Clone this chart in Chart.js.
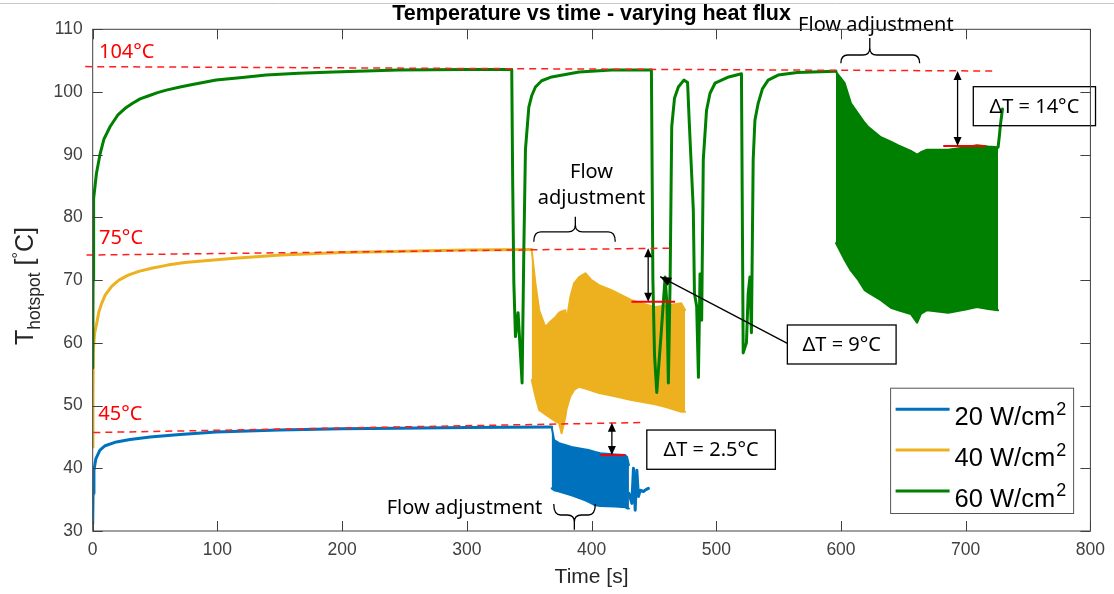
<!DOCTYPE html>
<html>
<head>
<meta charset="utf-8">
<script src="https://cdn.jsdelivr.net/npm/chart.js@4.4.0/dist/chart.umd.min.js"></script>
<style>
  html, body { margin: 0; padding: 0; background: #fff; }
  #wrap { width: 1114px; height: 594px; }
</style>
</head>
<body>
<div id="wrap"><canvas id="chart" width="1114" height="594"></canvas></div>
<script>
/* ================= DATA ================= */
const xTicks = [0, 100, 200, 300, 400, 500, 600, 700, 800];
const yTicks = [30, 40, 50, 60, 70, 80, 90, 100, 110];
const legendLabels = ["20 W/cm", "40 W/cm", "60 W/cm"];

// 20 W/cm2 - warm-up curve, then tail after the band (null = gap)
const t20 = [0, 0.3, 1, 2.5, 5.8, 10, 19, 30, 46, 70, 99, 150, 200, 245, 300, 368,
  380, 430, 432.3, 433.6, 435, 436.3, 437.6, 439, 441.6, 443.6, 445.6];
const T20 = [31.2, 36, 39.7, 41.5, 42.9, 43.6, 44.2, 44.6, 45, 45.4, 45.8, 46.1, 46.3, 46.4, 46.5, 46.6,
  null, 36, 34.4, 40, 33.3, 39.7, 35.5, 36.5, 36.3, 36.6, 36.8];
// 20 W/cm2 - oscillating part (envelope)
const t20band = [368, 370, 374, 384, 395, 398, 403, 407, 419, 427, 428.5, 430];
const T20hi = [46.6, 44.5, 44.0, 43.4, 43.0, 42.9, 42.6, 42.4, 42.2, 42.1, 41.8, 40.5];
const T20lo = [36.8, 36.5, 36.3, 35.7, 34.9, 34.6, 34.1, 34.0, 33.9, 33.8, 33.6, 33.6];

// 40 W/cm2
const t40 = [0, 0.2, 0.5, 1.5, 3.2, 5, 7.2, 10, 15.2, 21, 28.5, 37, 47.2, 60, 73.8, 90, 113.8, 151, 200, 250, 300, 352];
const T40 = [43.4, 52, 58.9, 61.5, 63.1, 65, 66.3, 67.6, 69, 70, 70.8, 71.4, 71.9, 72.4, 72.8, 73.1, 73.5, 74, 74.4, 74.6, 74.8, 74.9];
const t40band = [352, 355, 358, 363, 366, 371, 374, 376, 379, 380, 383, 386, 390, 395, 400, 406, 416, 432, 451, 459, 472, 475];
const T40hi = [74.8, 69.5, 65.2, 62.5, 63.2, 64.1, 64.8, 65.0, 65.2, 63.6, 67.3, 69.5, 70.5, 71.1, 70.0, 69.2, 68.4, 66.8, 65.7, 65.9, 66.3, 65.2];
const T40lo = [54.1, 51.5, 49.3, 48.6, 48.2, 47.5, 47.2, 45.6, 48.2, 49.5, 51.5, 52.5, 53.0, 52.7, 52.4, 52.0, 51.6, 50.9, 50.2, 49.8, 49.0, 49.0];

// 60 W/cm2
const t60 = [0, 0.3, 0.5, 1, 3, 5.8, 9, 14, 20, 26, 32, 38, 45, 52, 59, 70, 80, 99, 120, 139, 165, 193, 245, 300, 336,
  336.8, 337.7, 339, 341.1, 342.2, 344.3, 345.7, 347, 349.7, 352, 355, 360, 368, 390, 416, 448,
  449.2, 450.5, 452.3, 456, 459, 460.5, 461.6, 463, 464.3, 466.5, 469.6, 474, 477,
  478.5, 481.6, 482.5, 484.3, 485.7, 487, 488.3, 489.6, 492.2, 495, 499, 510, 520.2,
  521.6, 524.2, 525.6, 527, 528.2, 529.6, 531, 533.6, 537, 541.6, 549.6, 565, 596,
  660, 726, 727, 728, 729.5];
const T60 = [56, 70, 80, 83, 87, 90, 92.5, 94.5, 96.3, 97.4, 98.2, 98.9, 99.4, 99.9, 100.3, 100.8, 101.2, 101.9, 102.3, 102.7, 103.0, 103.2, 103.5, 103.6, 103.6,
  85, 69.5, 61, 64.8, 61, 53.6, 74.8, 90.8, 97.6, 99.4, 100.8, 101.8, 102.4, 103.2, 103.5, 103.5,
  70, 58, 52.1, 62, 70.5, 66, 53.6, 70, 94.5, 99, 100.8, 101.9, 101.5,
  94.5, 81.2, 67.9, 65.8, 54.5, 71, 63.6, 89.2, 97.1, 99.8, 101.4, 102.4, 102.9,
  58.4, 60, 67.9, 70.5, 61.6, 89.2, 95.5, 98.2, 100.5, 101.9, 102.7, 103.1, 103.3,
  null, 91.2, 93, 95, 97.3];
const t60band = [596, 603, 608, 614, 619, 622, 632, 640, 646, 656, 661, 664, 669, 686, 700, 709, 718, 726];
const T60hi = [103.2, 101.4, 98.2, 96.5, 95.1, 94.4, 92.8, 92.1, 91.5, 90.6, 90.0, 90.4, 90.8, 90.8, 91.2, 91.5, 91.3, 91.2];
const T60lo = [75.9, 73.2, 71.5, 70.0, 68.4, 68.0, 66.8, 65.6, 65.2, 64.6, 63.2, 64.6, 65.2, 64.8, 65.3, 65.7, 65.4, 65.2];

/* ================= STYLE ================= */
const BLUE = "#0072BD";
const ORANGE = "#EDB120";
const GREEN = "#008000";
const RED = "#ff1f1f";
const AXIS = "#404040";
const SANS = "'Liberation Sans', Arial, sans-serif";
const NOTE = "'Noto Sans', 'Open Sans', sans-serif";

// annotations, in data units
const refLines = [
  { from: [-6, 104.05], to: [721.5, 103.35], text: "104°C", at: [5, 106.4] },
  { from: [-5, 74.0], to: [464, 75.1], text: "75°C", at: [5, 76.7] },
  { from: [0.5, 45.7], to: [440, 47.3], text: "45°C", at: [4.5, 48.55] }
];
const dropLines = [
  { x1: 682, x2: 716, y: 91.4 },
  { x1: 432, x2: 467, y: 66.55 },
  { x1: 407, x2: 427, y: 42.1 }
];
const arrows = [
  { x: 693.5, y1: 103.35, y2: 91.4 },
  { x: 445.4, y1: 75.1, y2: 66.55 },
  { x: 416.3, y1: 47.25, y2: 42.1 }
];
const boxes = [
  { x1: 706.1, x2: 804.1, y1: 100.85, y2: 94.63, text: "ΔT = 14°C" },
  { x1: 557, x2: 644.2, y1: 62.85, y2: 56.63, text: "ΔT = 9°C" },
  { x1: 444.3, x2: 547.4, y1: 46.1, y2: 39.84, text: "ΔT = 2.5°C" }
];
const leader = { from: [557, 59.93], to: [455, 70.55] };
const braces = [
  { x1: 599.9, x2: 663.1, yEnd: 104.6, yMain: 105.9, xTip: 623.1, yTip: 108.6, lines: ["Flow adjustment"], at: [628, 110.7] },
  { x1: 353.7, x2: 419, yEnd: 76.13, yMain: 77.7, xTip: 387, yTip: 80.1, lines: ["Flow", "adjustment"], at: [400, 87.2] },
  { x1: 369.7, x2: 403, yEnd: 34.3, yMain: 32.55, xTip: 386.2, yTip: 30.2, lines: ["Flow adjustment"], at: [298.1, 33.67] }
];

/* ================= HELPERS ================= */
const pts = (xs, ys) => xs.map((x, i) => ({ x, y: ys[i] }));

const lineBase = {
  pointRadius: 0,
  tension: 0,
  fill: false,
  spanGaps: false,
  borderJoinStyle: "round",
  borderCapStyle: "round"
};

function arrowHead(ctx, x, y, dx, dy, len, half) {
  const n = Math.hypot(dx, dy);
  const ux = dx / n, uy = dy / n;
  ctx.beginPath();
  ctx.moveTo(x, y);
  ctx.lineTo(x - ux * len - uy * half, y - uy * len + ux * half);
  ctx.lineTo(x - ux * len + uy * half, y - uy * len - ux * half);
  ctx.closePath();
  ctx.fill();
}

function drawBrace(ctx, X1, X2, YE, YM, XT, YT) {
  const r = 7;
  const d = Math.sign(YT - YM);
  ctx.beginPath();
  ctx.moveTo(X1, YE);
  ctx.quadraticCurveTo(X1, YM, X1 + r, YM);
  ctx.lineTo(XT - r, YM);
  ctx.quadraticCurveTo(XT, YM, XT, YM + d * r);
  ctx.lineTo(XT, YT);
  ctx.moveTo(XT, YM + d * r);
  ctx.quadraticCurveTo(XT, YM, XT + r, YM);
  ctx.lineTo(X2 - r, YM);
  ctx.quadraticCurveTo(X2, YM, X2, YE);
  ctx.stroke();
}

/* ================= DECORATION PLUGIN ================= */
const decor = {
  id: "decor",
  afterDatasetsDraw(chart) {
    const ctx = chart.ctx;
    const { left, right, top, bottom } = chart.chartArea;
    const xs = chart.scales.x, ys = chart.scales.y;
    const px = (v) => xs.getPixelForValue(v);
    const py = (v) => ys.getPixelForValue(v);

    ctx.save();

    // screenshot edge line
    ctx.strokeStyle = "#c8c8c8";
    ctx.lineWidth = 1;
    ctx.beginPath();
    ctx.moveTo(0, 3.5); ctx.lineTo(chart.width, 3.5);
    ctx.stroke();

    /* ---------- reference lines ---------- */
    ctx.strokeStyle = RED;
    ctx.lineWidth = 1.5;
    ctx.setLineDash([7, 5]);
    refLines.forEach((r) => {
      ctx.beginPath();
      ctx.moveTo(px(r.from[0]), py(r.from[1]));
      ctx.lineTo(px(r.to[0]), py(r.to[1]));
      ctx.stroke();
    });
    ctx.setLineDash([]);
    ctx.fillStyle = "#ff0000";
    ctx.font = "20px " + NOTE;
    ctx.textAlign = "left";
    ctx.textBaseline = "middle";
    refLines.forEach((r) => ctx.fillText(r.text, px(r.at[0]), py(r.at[1])));

    ctx.strokeStyle = "#ff0000";
    ctx.lineWidth = 2;
    dropLines.forEach((l) => {
      ctx.beginPath();
      ctx.moveTo(px(l.x1), py(l.y)); ctx.lineTo(px(l.x2), py(l.y));
      ctx.stroke();
    });

    /* ---------- delta arrows ---------- */
    ctx.strokeStyle = "#000";
    ctx.fillStyle = "#000";
    ctx.lineWidth = 1.3;
    arrows.forEach((a) => {
      const X = px(a.x), Y1 = py(a.y1), Y2 = py(a.y2);
      ctx.beginPath();
      ctx.moveTo(X, Y1 + 6); ctx.lineTo(X, Y2 - 6);
      ctx.stroke();
      arrowHead(ctx, X, Y1, 0, -1, 9, 4);
      arrowHead(ctx, X, Y2, 0, 1, 9, 4);
    });

    const LX1 = px(leader.from[0]), LY1 = py(leader.from[1]);
    const LX2 = px(leader.to[0]), LY2 = py(leader.to[1]);
    ctx.beginPath();
    ctx.moveTo(LX1, LY1); ctx.lineTo(LX2, LY2);
    ctx.stroke();
    arrowHead(ctx, LX2, LY2, LX2 - LX1, LY2 - LY1, 11, 4.5);

    /* ---------- text boxes ---------- */
    ctx.font = "20px " + NOTE;
    ctx.textAlign = "center";
    ctx.textBaseline = "middle";
    boxes.forEach((b) => {
      const X1 = px(b.x1), X2 = px(b.x2), Y1 = py(b.y1), Y2 = py(b.y2);
      ctx.lineWidth = 1.3;
      ctx.strokeRect(X1, Y1, X2 - X1, Y2 - Y1);
      ctx.fillText(b.text, (X1 + X2) / 2, (Y1 + Y2) / 2 + 1);
    });

    /* ---------- braces ---------- */
    ctx.lineWidth = 1.3;
    braces.forEach((b) => {
      drawBrace(ctx, px(b.x1), px(b.x2), py(b.yEnd), py(b.yMain), px(b.xTip), py(b.yTip));
      b.lines.forEach((s, i) => ctx.fillText(s, px(b.at[0]), py(b.at[1]) + i * 26));
    });

    /* ---------- axes box + inward ticks ---------- */
    ctx.strokeStyle = AXIS;
    ctx.lineWidth = 1;
    ctx.strokeRect(left, top, right - left, bottom - top);
    const tl = 10;
    ctx.beginPath();
    xTicks.forEach((v) => {
      const X = Math.round(px(v)) + 0.5;
      ctx.moveTo(X, bottom); ctx.lineTo(X, bottom - tl);
      ctx.moveTo(X, top); ctx.lineTo(X, top + tl);
    });
    yTicks.forEach((v) => {
      const Y = Math.round(py(v)) + 0.5;
      ctx.moveTo(left, Y); ctx.lineTo(left + tl, Y);
      ctx.moveTo(right, Y); ctx.lineTo(right - tl, Y);
    });
    ctx.stroke();

    /* ---------- title ---------- */
    ctx.fillStyle = "#000";
    ctx.font = "bold 21.5px " + SANS;
    ctx.textAlign = "center";
    ctx.textBaseline = "middle";
    ctx.fillText("Temperature vs time - varying heat flux", (left + right) / 2, 14);

    /* ---------- y axis label with sub/superscript ---------- */
    ctx.save();
    ctx.translate(33, 345);
    ctx.rotate(-Math.PI / 2);
    ctx.fillStyle = "#262626";
    ctx.textAlign = "left";
    ctx.textBaseline = "alphabetic";
    let u = 0;
    const part = (s, size, dy) => {
      ctx.font = size + "px " + SANS;
      ctx.fillText(s, u, dy);
      u += ctx.measureText(s).width;
    };
    part("T", 25, 0);
    part("hotspot", 17.5, 6.5);
    part(" [", 25, 0);
    part("°", 16, -9);
    part("C]", 25, 0);
    ctx.restore();

    /* ---------- legend ---------- */
    const lgW = 183, lgH = 125.3;
    const lgX = right - 17.3 - lgW, lgY = bottom - 18 - lgH;
    ctx.fillStyle = "#fff";
    ctx.fillRect(lgX, lgY, lgW, lgH);
    ctx.strokeStyle = "#555";
    ctx.lineWidth = 1;
    ctx.strokeRect(lgX + 0.5, lgY + 0.5, lgW, lgH);
    [BLUE, ORANGE, GREEN].forEach((c, i) => {
      const Y = lgY + 21.6 + i * 40.8;
      ctx.strokeStyle = c;
      ctx.lineWidth = 3;
      ctx.beginPath();
      ctx.moveTo(lgX + 5.5, Y); ctx.lineTo(lgX + 59.5, Y);
      ctx.stroke();
      ctx.fillStyle = "#000";
      ctx.textAlign = "left";
      ctx.textBaseline = "alphabetic";
      ctx.font = "25.5px " + SANS;
      ctx.fillText(legendLabels[i], lgX + 64.5, Y + 16);
      const w = ctx.measureText(legendLabels[i]).width;
      ctx.font = "18px " + SANS;
      ctx.fillText("2", lgX + 64.5 + w + 1, Y + 5.5);
    });

    ctx.restore();
  }
};

/* ================= CHART ================= */
new Chart(document.getElementById("chart"), {
  type: "line",
  data: {
    datasets: [
      { ...lineBase, label: "60 W/cm²", data: pts(t60, T60), borderColor: GREEN, borderWidth: 3, order: 0 },
      { ...lineBase, data: pts(t60band, T60hi), borderColor: GREEN, borderWidth: 2, order: 0 },
      { ...lineBase, data: pts(t60band, T60lo), borderColor: GREEN, borderWidth: 2, order: 0, fill: 1, backgroundColor: GREEN },
      { ...lineBase, label: "40 W/cm²", data: pts(t40, T40), borderColor: ORANGE, borderWidth: 3, order: 1 },
      { ...lineBase, data: pts(t40band, T40hi), borderColor: ORANGE, borderWidth: 2, order: 1 },
      { ...lineBase, data: pts(t40band, T40lo), borderColor: ORANGE, borderWidth: 2, order: 1, fill: 4, backgroundColor: ORANGE },
      { ...lineBase, label: "20 W/cm²", data: pts(t20, T20), borderColor: BLUE, borderWidth: 3, order: 2 },
      { ...lineBase, data: pts(t20band, T20hi), borderColor: BLUE, borderWidth: 2, order: 2 },
      { ...lineBase, data: pts(t20band, T20lo), borderColor: BLUE, borderWidth: 2, order: 2, fill: 7, backgroundColor: BLUE }
    ]
  },
  options: {
    responsive: false,
    animation: false,
    devicePixelRatio: 1,
    layout: { padding: { top: 29.3, right: 21, bottom: 0, left: 0 } },
    plugins: {
      legend: { display: false },
      tooltip: { enabled: false },
      title: { display: false }
    },
    scales: {
      x: {
        type: "linear",
        min: 0,
        max: 800,
        afterBuildTicks: (s) => { s.ticks = xTicks.map((v) => ({ value: v })); },
        afterFit: (s) => { s.height = 63; },
        grid: { display: false, drawTicks: false },
        border: { display: false },
        ticks: { color: AXIS, padding: 9, maxRotation: 0, font: { family: SANS, size: 17.5 } },
        title: { display: true, text: "Time [s]", color: "#262626", padding: { top: 0, bottom: 4 }, font: { family: SANS, size: 21 } }
      },
      y: {
        type: "linear",
        min: 30,
        max: 110,
        afterBuildTicks: (s) => { s.ticks = yTicks.map((v) => ({ value: v })); },
        afterFit: (s) => { s.width = 92.7; },
        grid: { display: false, drawTicks: false },
        border: { display: false },
        ticks: { color: AXIS, padding: 10, font: { family: SANS, size: 17.5 } }
      }
    }
  },
  plugins: [decor]
});
</script>
</body>
</html>
